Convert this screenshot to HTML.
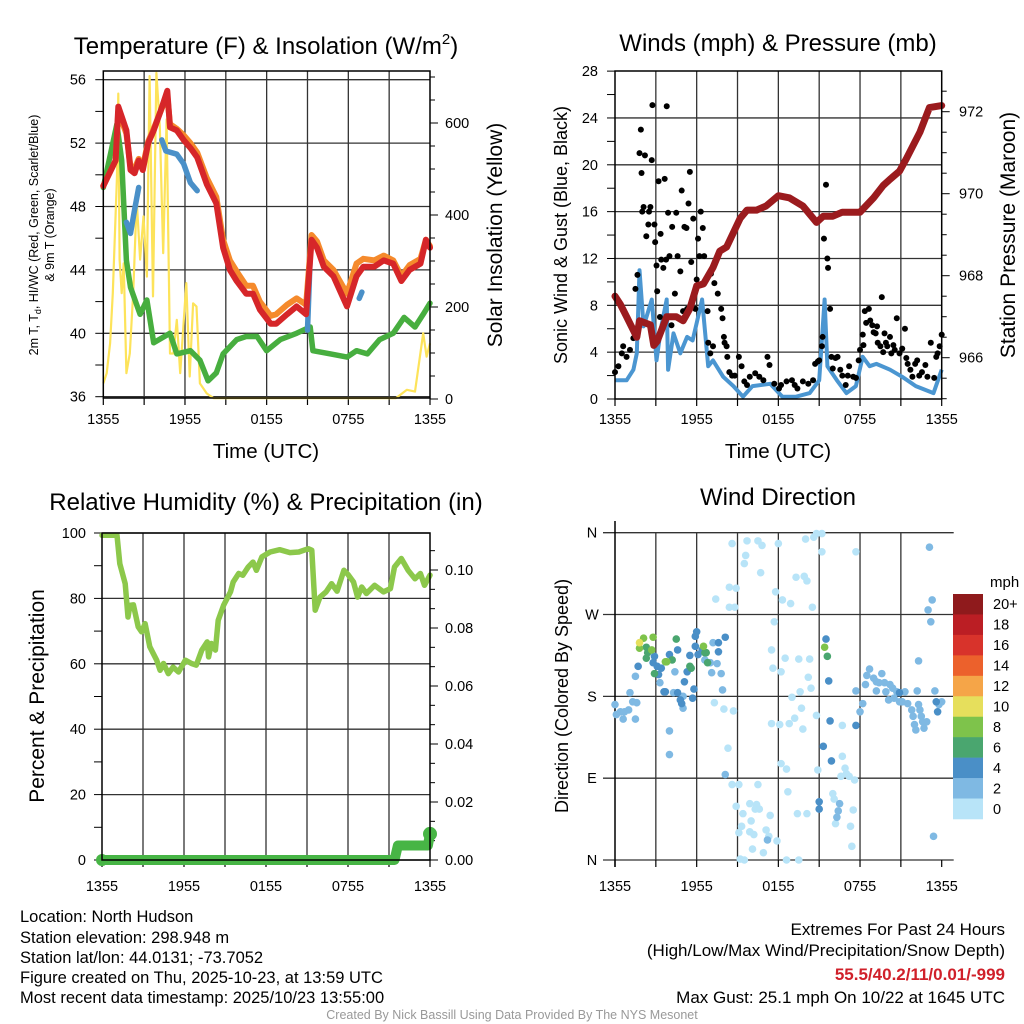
<!DOCTYPE html>
<html><head><meta charset="utf-8"><style>
body{margin:0;background:#fff;}
svg{display:block;font-family:"Liberation Sans",Arial,sans-serif;}
</style></head><body>
<svg id="chart" width="1024" height="1024" viewBox="0 0 1024 1024" xmlns="http://www.w3.org/2000/svg">
<rect width="1024" height="1024" fill="#fff"/>
<!-- Titles -->
<text x="266" y="54" font-size="24" text-anchor="middle">Temperature (F) &amp; Insolation (W/m<tspan font-size="15" dy="-10">2</tspan><tspan dy="10">)</tspan></text>
<text x="778" y="51" font-size="24" text-anchor="middle">Winds (mph) &amp; Pressure (mb)</text>
<text x="266" y="510" font-size="24" text-anchor="middle">Relative Humidity (%) &amp; Precipitation (in)</text>
<text x="778" y="505" font-size="24" text-anchor="middle">Wind Direction</text>
<!-- axis titles -->
<text x="266" y="458" font-size="20.5" text-anchor="middle">Time (UTC)</text>
<text x="778" y="458" font-size="20.5" text-anchor="middle">Time (UTC)</text>
<text transform="translate(38,235) rotate(-90)" font-size="12.5" text-anchor="middle">2m T, T<tspan font-size="9" dy="3">d</tspan><tspan dy="-3">, HI/WC (Red, Green, Scarlet/Blue)</tspan></text>
<text transform="translate(54,235) rotate(-90)" font-size="12.5" text-anchor="middle">&amp; 9m T (Orange)</text>
<text transform="translate(502,235) rotate(-90)" font-size="21" text-anchor="middle">Solar Insolation (Yellow)</text>
<text transform="translate(567,235) rotate(-90)" font-size="18" text-anchor="middle">Sonic Wind &amp; Gust (Blue, Black)</text>
<text transform="translate(1015,235) rotate(-90)" font-size="21" text-anchor="middle">Station Pressure (Maroon)</text>
<text transform="translate(44,696) rotate(-90)" font-size="21" text-anchor="middle">Percent &amp; Precipitation</text>
<text transform="translate(568,696) rotate(-90)" font-size="18" text-anchor="middle">Direction (Colored By Speed)</text>
<text x="990" y="587" font-size="15">mph</text>
<!-- footer text -->
<g font-size="16.5">
<text x="20" y="922">Location: North Hudson</text>
<text x="20" y="943">Station elevation: 298.948 m</text>
<text x="20" y="963">Station lat/lon: 44.0131; -73.7052</text>
<text x="20" y="983">Figure created on Thu, 2025-10-23, at 13:59 UTC</text>
<text x="20" y="1003">Most recent data timestamp: 2025/10/23 13:55:00</text>
</g>
<g font-size="17" text-anchor="end">
<text x="1005" y="935">Extremes For Past 24 Hours</text>
<text x="1005" y="956">(High/Low/Max Wind/Precipitation/Snow Depth)</text>
<text x="1005" y="980" fill="#d0202a" font-weight="bold">55.5/40.2/11/0.01/-999</text>
<text x="1005" y="1003">Max Gust: 25.1 mph On 10/22 at 1645 UTC</text>
</g>
<text x="512" y="1019" font-size="12.5" fill="#999" text-anchor="middle">Created By Nick Bassill Using Data Provided By The NYS Mesonet</text>
<g id="layer"></g>
</svg>
<script>
// ---- Temperature panel data ----
const tH = [0,0.9,1.1,1.7,2.0,2.3,2.6,2.9,3.3,3.7,4.2,4.7,4.9,5.4,5.9,6.4,6.9,7.6,8.3,8.8,9.3,9.8,10.5,11,11.5,12.3,12.7,13.5,14.2,14.9,15.3,15.7,16.2,16.9,17.9,18.6,19.1,19.9,20.6,21.3,21.9,22.5,23.3,23.7,24];
const redT = [49.3,50.9,54.3,52.8,50.3,50.1,50.9,50.3,52,52.8,54,55.3,53,52.8,52.2,51.7,51.1,49.4,48.2,45.4,44,43.3,42.5,42.5,41.5,40.6,40.6,41.2,41.7,41.2,45.9,45.4,44.2,43.6,41.7,43.6,44.2,44.2,44.6,44.4,43.3,44,44.4,45.9,45.4];
const orangeT = [49.3,50.9,54.0,52.6,50.5,50.4,51.0,50.5,52.1,52.9,54.0,55.0,53.2,52.9,52.5,52.0,51.4,49.8,48.6,45.9,44.6,43.9,43.0,43.0,42.0,41.1,41.2,41.8,42.2,41.8,46.2,45.8,44.6,44.0,42.5,44.4,44.7,44.6,44.9,44.6,43.6,44.3,44.7,45.9,45.5];
const gH = [0,1.0,1.35,1.7,2.0,2.7,3.2,3.7,4.9,5.4,6.4,7.1,7.7,8.3,8.8,9.8,10.5,11.3,12,13,14.2,15.2,15.4,16.7,17.9,18.6,19.4,20.3,21.3,22.1,22.9,23.5,24];
const greenT = [49.2,53.2,50.9,44.6,42.9,41.2,42.1,39.4,40,38.7,38.9,38.3,37,37.5,38.7,39.6,39.8,39.8,38.9,39.6,40,40.4,38.9,38.7,38.5,38.9,38.7,39.6,40,41,40.4,41.2,41.9];
const bH = [1.7,2.0,2.3,2.6,null,4.3,4.6,5.4,5.9,6.4,6.9,null,15.0,15.2,null,18.8,19.0];
const blueT = [47,46.3,47.8,49.2,null,52.2,51.5,51.3,50.7,49.5,49,null,40.2,44.8,null,42.2,42.6];
const sH = [0,0.25,0.5,0.7,1.0,1.1,1.2,1.35,1.5,1.7,1.95,2.2,2.45,2.7,2.95,3.2,3.4,3.65,3.9,4.15,4.4,4.65,4.9,5.15,5.4,5.65,6.1,6.35,6.6,6.85,7.1,7.6,8.1,21.5,22.3,22.9,23.5,23.75,24];
const solar = [34,56,121,230,479,664,303,230,295,56,99,230,433,303,397,266,702,223,709,593,317,608,99,99,172,56,252,49,208,201,34,12,2,2,20,16,143,92,121];
// ---- Winds panel data ----
const pH = [0,0.4,0.85,1.6,1.8,2.6,2.85,3.1,3.8,4.5,5,5.5,6,6.5,7.2,7.7,8.2,9.2,9.7,10.4,11.1,12,12.8,13.8,14.8,15.3,16,16.7,18,19,19.7,20.2,20.9,21.4,22.4,23.1,24];
const pres = [967.5,967.3,967.0,966.5,966.9,966.8,966.3,966.4,967.0,967.0,966.9,967.2,967.75,967.8,968.2,968.6,968.7,969.4,969.6,969.6,969.7,969.95,969.9,969.7,969.3,969.45,969.45,969.55,969.55,969.9,970.2,970.35,970.55,970.85,971.5,972.1,972.15];
const wH = [0,0.85,1.35,1.6,1.8,2.1,2.7,3.05,3.4,3.8,3.9,4.3,4.8,5.3,5.7,6,6.4,6.85,7.2,7.95,8.7,9.4,10.1,11.4,12.3,13.3,14.3,15,15.4,15.6,16.3,17,17.7,18.2,18.7,19.2,20.2,21.1,22.1,23.4,24];
const wind = [1.6,1.6,2.5,3.9,11,6.2,8.5,3.3,6.2,8.5,2.5,5.6,3.9,5.3,5,6.5,8.5,2.8,3.3,1.9,1.1,0.2,1.1,1.3,0.2,0.2,0.5,1.6,8.5,2.8,1.6,0.5,1.1,3.6,2.8,3.0,2.5,1.9,1.1,0.5,2.5];
const gustH = [0,0.25,0.5,0.6,0.85,1.1,1.35,1.5,1.65,1.8,1.9,1.95,2.0,2.1,2.2,2.3,2.45,2.5,2.6,2.7,2.75,2.9,2.95,3.05,3.1,3.2,3.3,3.35,3.4,3.55,3.65,3.75,3.8,3.9,4.0,4.15,4.2,4.4,4.5,4.6,4.8,4.9,5.0,5.1,5.25,5.3,5.4,5.5,5.6,5.75,5.9,6.0,6.1,6.2,6.3,6.45,6.55,6.7,6.8,6.85,7.0,7.05,7.2,7.3,7.55,7.8,7.9,8.0,8.05,8.2,8.25,8.4,8.6,8.8,9.1,9.3,9.5,9.7,9.9,10.3,10.6,10.9,11.2,11.35,11.7,12.05,12.2,12.6,13.0,13.2,13.4,13.8,14.2,14.55,14.7,14.9,15.0,15.2,15.25,15.35,15.5,15.6,15.65,15.8,15.9,16.0,16.2,16.35,16.55,16.7,16.95,17.1,17.2,17.5,17.7,17.9,18.0,18.2,18.25,18.35,18.45,18.65,18.75,18.9,19.0,19.15,19.25,19.3,19.5,19.6,19.7,19.8,19.9,20.0,20.2,20.3,20.45,20.55,20.7,20.9,21.1,21.3,21.4,21.5,21.7,21.85,22.05,22.2,22.35,22.55,22.8,22.95,23.2,23.45,23.6,23.7,23.85,24];
const gustV = [2.3,2.8,3.9,4.5,3.6,4.2,5.2,9.4,10.6,21,23,19.3,16,16.4,20.8,13.9,14.9,16,16.4,20.4,25.1,14.9,13.4,11.4,9.2,18.6,7.0,14.1,11.9,11.2,18.8,11.9,25.0,15.9,12.2,6.3,14.7,9.0,15.9,12.2,10.9,17.8,7.5,14.7,14.6,7.7,16.7,19.4,11.7,15.4,7.7,10.2,13.7,12.2,16,14.6,12.2,10.2,7.5,4.8,3.9,10.7,4.5,9.9,9.0,7.7,6.9,5.3,4.8,4.5,3.6,2.3,2.0,2.0,3.6,2.8,1.5,1.2,1.9,2.2,1.9,1.6,3.6,2.9,1.3,0.9,1.2,1.5,1.6,1.2,0.9,1.5,1.3,1.6,3.0,3.2,3.3,4.5,5.3,13.7,18.3,12.0,11.2,7.7,3.6,2.6,3.5,3.6,2.5,2.0,1.2,2.0,2.8,1.9,1.8,3.3,4.2,5.5,4.6,7.5,6.5,7.7,6.7,6.3,5.7,5.6,6.2,4.8,4.5,8.7,4.0,5.6,4.8,4.5,5.3,3.9,4.6,4.2,6.9,3.9,4.3,6.0,3.5,3.0,2.5,1.9,3.0,3.3,2.0,2.3,2.9,1.9,4.8,1.8,3.6,3.9,4.5,5.5];
// ---- Humidity panel data ----
const rH = [0,1.1,1.3,1.7,1.9,2.05,2.3,2.65,2.9,3.15,3.5,4.0,4.25,4.5,4.85,5.2,5.6,6.1,6.55,6.9,7.3,7.7,7.8,8.0,8.3,8.5,8.9,9.4,9.6,10.0,10.3,10.7,11.05,11.3,11.7,12.3,13.0,13.75,14.4,15.1,15.35,15.6,15.95,16.4,16.8,17.2,17.7,18.0,18.4,18.7,19.0,19.35,19.95,20.6,21.1,21.4,21.9,22.4,22.9,23.3,23.6,24];
const rh = [99.3,99.3,90.6,84.5,74.3,77.9,78,71.3,69.8,72.3,65.2,61.1,58.0,60.1,57.0,59,57.5,61.1,60.1,59.6,64.2,66.7,62.1,66.2,64.2,73.3,77.9,82,85,87.6,87.1,89.6,91.1,88.6,92.7,94.2,94.9,94,94.2,95.2,94.7,76.4,80.4,82,84.5,82.2,88.6,87.3,85,80.4,83.5,81.5,84,82,83,89.6,92.2,88.6,86,87.6,84,87.1];
const pcH = [0,21.4,21.65,23.85,24];
const precip = [0,0,0.005,0.005,0.009];
// ---- Wind direction panel data ----
const dH = [0,0.1,0.4,0.6,0.7,1.0,1.1,1.3,1.5,1.6,1.5,1.7,1.8,2.1,1.8,2.3,2.7,2.8,2.4,2.3,2.9,2.8,3.1,2.9,3.2,3.3,3.4,3.7,3.8,4.2,4.0,3.6,3.7,4.3,4.4,4.6,4.8,4.9,5.0,5.0,4.6,4.5,4.0,4.0,5.1,5.3,5.5,5.5,5.6,5.7,5.8,5.9,5.9,6.0,6.1,6.4,6.5,6.6,6.7,6.8,6.6,7.0,7.1,7.2,7.6,7.6,7.5,7.8,7.9,8.1,7.3,8.0,8.7,
8.6,9.7,10.5,10.8,9.6,9.5,10.7,8.4,8.9,7.4,8.4,8.8,12.0,14.0,14.6,14.8,15.2,11.8,12.3,12.9,13.3,13.9,14.1,14.5,11.7,11.5,12.5,13.5,14.3,11.6,12.2,14.2,14.4,13.6,13.0,13.7,14.8,11.5,12.1,12.8,13.2,13.8,8.3,8.1,8.6,9.1,10.5,8.9,9.4,9.9,10.4,10.3,10.6,10.0,11.4,9.3,9.1,9.9,10.2,11.1,11.3,11.9,11.2,10.1,10.9,9.2,9.5,12.6,13.5,12.2,12.6,12.7,13.4,14.1,14.9,15.0,15.0,15.3,15.9,15.7,15.8,15.6,15.4,15.5,15.2,17.7,16.7,16.6,16.9,17.0,17.2,17.6,16.0,16.1,16.5,16.4,16.3,16.2,17.5,17.3,17.4,16.7,17.7,
18.7,18.5,19.0,19.2,19.6,19.4,19.8,20.2,20.1,20.4,20.7,20.9,21.3,21.1,21.5,21.8,21.9,22.3,22.4,22.5,22.6,22.9,22.0,22.1,22.7,18.2,18.0,17.7,18.4,19.2,19.9,20.5,20.9,23.6,23.8,23.7,24.0,23.5,22.2,22.3,23.1,23.3,23.0,23.2,23.4,23.2];
const dDir = [171,160,163,155,163,165,184,174,155,173,202,213,239,244,233,234,231,245,228,222,224,217,213,205,204,195,211,218,218,220,226,185,185,184,207,184,176,172,167,180,231,243,142,116,196,207,225,213,211,178,188,235,246,251,226,231,235,228,228,217,220,217,206,239,239,229,216,205,187,245,173,166,164,
348,351,351,346,335,326,316,300,299,287,278,278,348,353,355,359,359,295,286,282,311,312,307,278,262,231,222,221,221,211,207,201,189,185,179,167,159,150,149,150,156,144,123,94,83,83,83,59,51,62,61,56,56,43,49,37,30,31,28,33,26,21,22,12,8,1,0,0,0,106,100,75,51,51,99,64,56,125,109,197,153,224,234,243,339,339,114,92,101,95,92,88,73,67,62,54,47,40,55,37,15,148,148,
210,203,200,196,205,195,195,193,176,189,185,184,185,174,172,165,158,171,165,158,152,152,149,143,145,172,163,186,193,186,185,178,174,174,171,163,174,186,186,219,344,286,275,262,26,17];
const dSpd = [3,3,3,3,3,3,3,3,3,3,3,5,11,9,9,7,9,9,7,7,5,5,5,7,5,3,5,9,9,7,5,5,5,3,3,5,5,5,3,3,5,7,3,3,5,5,5,7,7,5,5,5,5,5,5,5,9,7,7,7,3,3,3,3,5,5,3,3,3,5,1,1,1,
1,1,1,1,1,1,1,1,1,1,1,1,1,1,1,1,1,1,1,1,1,1,1,1,1,1,1,1,1,1,1,1,1,1,1,1,1,1,1,1,1,1,1,3,1,1,1,1,1,1,1,1,1,1,1,1,1,1,1,1,1,1,3,1,1,1,1,1,1,1,1,1,1,1,1,5,5,5,5,5,5,7,9,5,1,1,1,1,1,1,1,1,1,1,3,3,3,1,1,1,1,1,
5,3,3,3,3,3,3,3,3,3,3,3,5,3,3,3,3,3,3,3,3,3,3,3,3,3,3,3,3,3,3,3,3,3,5,3,5,3,3,3,3,3,3,3,3,3];
const speedBins = ["20+","18","16","14","12","10","8","6","4","2","0"];
const binColors = ["#8f1a1c","#bb1e24","#d8332b","#ec612c","#f5a548","#e6df5c","#7ec34b","#4aa66f","#4a8fc7","#7fb9e3","#b8e4f8"];
const tickLabelsTime = ["1355","1955","0155","0755","1355"];

const NS="http://www.w3.org/2000/svg";
const layer=document.getElementById('layer');
function el(tag,attrs,parent){const e=document.createElementNS(NS,tag);for(const k in attrs)e.setAttribute(k,attrs[k]);(parent||layer).appendChild(e);return e;}
function txt(s,attrs,parent){const e=el('text',attrs,parent);e.textContent=s;return e;}
function pathFrom(xsArr,ysArr,fx,fy){let d='',pen=false;for(let i=0;i<xsArr.length;i++){if(xsArr[i]===null||ysArr[i]===null){pen=false;continue;}d+=(pen?'L':'M')+fx(xsArr[i]).toFixed(1)+','+fy(ysArr[i]).toFixed(1);pen=true;}return d;}

function frame(name,x0,x1,y0,y1,hLines,vLines){
  const g=el('g',{});
  
  
  hLines.forEach(y=>el('line',{x1:x0,x2:x1,y1:y,y2:y,stroke:'#333','stroke-width':1.3},g));
  vLines.forEach(x=>el('line',{x1:x,x2:x,y1:y0,y2:y1,stroke:'#333','stroke-width':1.3},g));
  return g;
}
function border(name,x0,x1,y0,y1){const r=el('rect',{x:x0,y:y0,width:x1-x0,height:y1-y0,fill:'none',stroke:'#000','stroke-width':1.5});}
function timeAxis(name,fx,yb,labY){
  const g=el('g',{});
  
  
  for(let h=0;h<=24;h+=3) el('line',{x1:fx(h),x2:fx(h),y1:yb,y2:yb+7,stroke:'#000','stroke-width':1.2},g);
  tickLabelsTime.forEach((s,i)=>txt(s,{x:fx(i*6),y:labY,'font-size':14.5,'text-anchor':'middle'},g));
}

// ===== Panel 1 =====
{
 const X0=103.3,X1=430,Y0=71,Y1=398;
 const fx=h=>X0+h*(X1-X0)/24, fT=t=>396.7-(t-36)*15.85, fS=w=>399-w*0.46;
 const hl=[];for(let t=36;t<=56;t+=4)hl.push(fT(t));
 const vl=[];for(let h=3;h<24;h+=3)vl.push(fx(h));
 frame('temperature',X0,X1,Y0,Y1,hl,vl);
 const ax=el('g',{});
 for(let t=36;t<=56;t+=2)el('line',{x1:X0-8,x2:X0,y1:fT(t),y2:fT(t),stroke:'#000','stroke-width':1},ax);
 for(let t=36;t<=56;t+=4)txt(String(t),{x:86,y:fT(t)+5,'font-size':14.5,'text-anchor':'end'},ax);
 const ax2=el('g',{});
 for(let w=0;w<=700;w+=50)el('line',{x1:X1,x2:X1+(w%200===0?8:5),y1:fS(w),y2:fS(w),stroke:'#000','stroke-width':1},ax2);
 for(let w=0;w<=600;w+=200)txt(String(w),{x:445,y:fS(w)+5,'font-size':14.5},ax2);
 timeAxis('temperature',fx,Y1,424);
 let p;
 p=el('path',{d:pathFrom(sH,solar,fx,fS),fill:'none',stroke:'#fde35a','stroke-width':2.2,'stroke-linejoin':'round'});
 
 p=el('path',{d:pathFrom(gH,greenT,fx,fT),fill:'none',stroke:'#47ae3f','stroke-width':5.5,'stroke-linejoin':'round','stroke-linecap':'round'});
 
 p=el('path',{d:pathFrom(tH,orangeT,fx,fT),fill:'none',stroke:'#f58a2c','stroke-width':6,'stroke-linejoin':'round','stroke-linecap':'round'});
 
 p=el('path',{d:pathFrom(bH,blueT,fx,fT),fill:'none',stroke:'#4a90c8','stroke-width':5.5,'stroke-linejoin':'round','stroke-linecap':'round'});
 
 p=el('path',{d:pathFrom(tH,redT,fx,fT),fill:'none',stroke:'#d62629','stroke-width':6,'stroke-linejoin':'round','stroke-linecap':'round'});
 
 border('temperature',X0,X1,Y0,Y1);
}
// ===== Panel 2 =====
{
 const X0=615,X1=941.7,Y0=71,Y1=399;
 const fx=h=>X0+h*(X1-X0)/24, fW=v=>399-v*11.71, fP=pp=>357.7-(pp-966)*41;
 const hl=[];for(let v=4;v<=24;v+=4)hl.push(fW(v));
 const vl=[];for(let h=3;h<24;h+=3)vl.push(fx(h));
 frame('winds',X0,X1,Y0,Y1,hl,vl);
 const ax=el('g',{});
 for(let v=0;v<=28;v+=2)el('line',{x1:X0-8,x2:X0,y1:fW(v),y2:fW(v),stroke:'#000','stroke-width':1},ax);
 for(let v=0;v<=28;v+=4)txt(String(v),{x:598,y:fW(v)+5,'font-size':14.5,'text-anchor':'end'},ax);
 const ax2=el('g',{});
 for(let q=965;q<=972.75;q+=0.5)el('line',{x1:X1,x2:X1+(q%2===0?8:5),y1:fP(q),y2:fP(q),stroke:'#000','stroke-width':1},ax2);
 for(let q=966;q<=972;q+=2)txt(String(q),{x:959,y:fP(q)+5,'font-size':14.5},ax2);
 timeAxis('winds',fx,Y1,424);
 let p=el('path',{d:pathFrom(wH,wind,fx,fW),fill:'none',stroke:'#4b96d1','stroke-width':4,'stroke-linejoin':'round'});
 
 const gg=el('g',{});
 gustH.forEach((h,i)=>{const c=el('circle',{cx:fx(h),cy:fW(gustV[i]),r:3,fill:'#000'},gg);
  
  });
 p=el('path',{d:pathFrom(pH,pres,fx,fP),fill:'none',stroke:'#9b1b1e','stroke-width':7,'stroke-linejoin':'round','stroke-linecap':'round'});
 
 border('winds',X0,X1,Y0,Y1);
}
// ===== Panel 3 =====
{
 const X0=102,X1=430,Y0=533,Y1=860;
 const fx=h=>X0+h*(X1-X0)/24, fR=r=>860-r*3.27, fPr=v=>860-v*2900;
 const hl=[];for(let r=0;r<=100;r+=20)hl.push(fR(r));
 const vl=[];for(let h=3;h<24;h+=3)vl.push(fx(h));
 frame('humidity',X0,X1,Y0,Y1,hl,vl);
 const ax=el('g',{});
 for(let r=0;r<=100;r+=10)el('line',{x1:X0-8,x2:X0,y1:fR(r),y2:fR(r),stroke:'#000','stroke-width':1},ax);
 for(let r=0;r<=100;r+=20)txt(String(r),{x:86,y:fR(r)+5,'font-size':14.5,'text-anchor':'end'},ax);
 const ax2=el('g',{});
 for(let i=0;i<=16;i++){const v=i*0.0066667;if(fPr(v)<Y0)break;el('line',{x1:X1,x2:X1+(i%3===0?8:5),y1:fPr(v),y2:fPr(v),stroke:'#000','stroke-width':1},ax2);}
 for(let v=0;v<=0.1001;v+=0.02)txt(v.toFixed(2),{x:445,y:fPr(v)+5,'font-size':14.5},ax2);
 timeAxis('humidity',fx,Y1,891);
 let p=el('path',{d:pathFrom(rH,rh,fx,fR),fill:'none',stroke:'#8cc84b','stroke-width':5.5,'stroke-linejoin':'round','stroke-linecap':'round'});
 
 p=el('path',{d:pathFrom(pcH,precip,fx,fPr),fill:'none',stroke:'#47b545','stroke-width':10,'stroke-linejoin':'round','stroke-linecap':'round'});
 
 const last=pcH.length-1;
 const c=el('circle',{cx:fx(pcH[last]),cy:fPr(precip[last]),r:7,fill:'#47b545'});
 
 const c2=el('circle',{cx:fx(pcH[0]),cy:fPr(precip[0]),r:6,fill:'#47b545'});
 
 border('humidity',X0,X1,Y0,Y1);
}
// ===== Panel 4 =====
{
 const X0=615,X1=941.7,Y0=533,Y1=860;
 const fx=h=>X0+h*(X1-X0)/24, fD=d=>860-d*0.9092;
 const hl=[0,90,180,270,360].map(fD);
 const vl=[];for(let h=3;h<24;h+=3)vl.push(fx(h));
 frame('direction',X0-12,X1+12,Y0,Y1,hl,vl);
 el('line',{x1:X0,x2:X0,y1:Y0-12,y2:Y1+7,stroke:'#000','stroke-width':1.5});
 const ax=el('g',{});
 ['N','E','S','W','N'].forEach((s,i)=>txt(s,{x:592,y:fD(i*90)+5,'font-size':14.5,'text-anchor':'middle'},ax));
 timeAxis('direction',fx,Y1,891);
 const binOf=s=>{const b=Math.min(10,Math.floor(s/2));return 10-b;};
 const gg=el('g',{});
 const n=Math.min(dH.length,dDir.length,dSpd.length);
 const idx=[...Array(n).keys()].sort((a,b)=>dSpd[a]-dSpd[b]);
 idx.forEach(i=>{const c=el('circle',{cx:fx(dH[i]),cy:fD(dDir[i]),r:3.8,fill:binColors[binOf(dSpd[i])]},gg);
  
  });
 const cb=el('g',{});
 const bh=(819-594)/speedBins.length;
 speedBins.forEach((s,i)=>{el('rect',{x:953,y:594+i*bh,width:30,height:bh+0.3,fill:binColors[i]},cb);
  txt(s,{x:993,y:594+i*bh+bh/2+5,'font-size':14.5},cb);});
}
</script>
</body></html>
